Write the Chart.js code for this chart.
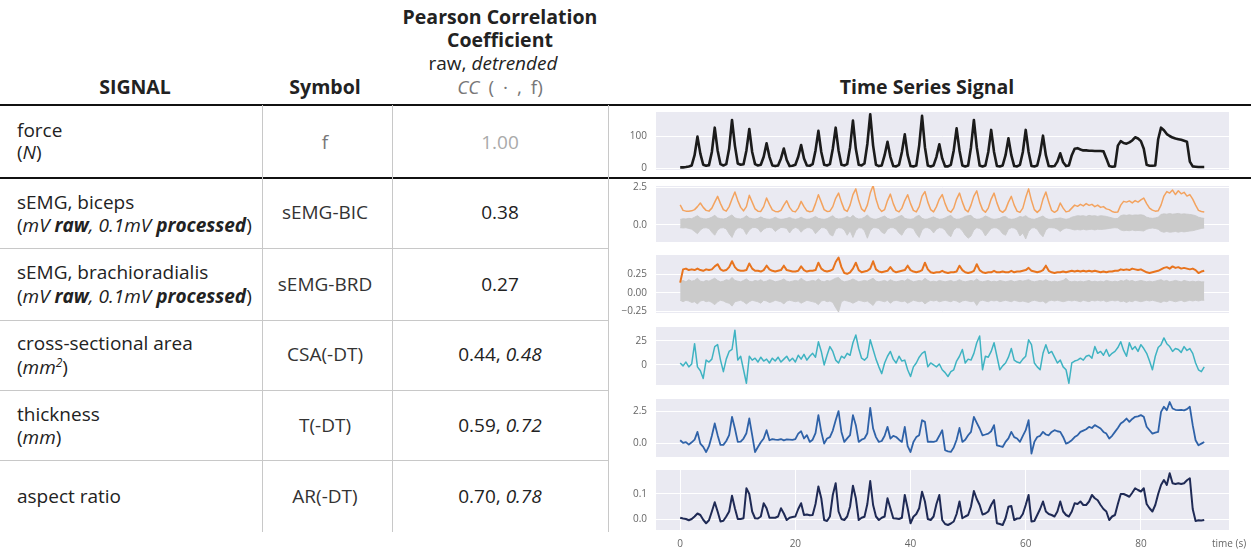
<!DOCTYPE html>
<html>
<head>
<meta charset="utf-8">
<script src="https://cdn.jsdelivr.net/npm/chart.js@4.4.1/dist/chart.umd.min.js"></script>
<style>
  body{margin:0;width:1251px;height:552px;position:relative;overflow:hidden;background:#fff;
       font-family:"Open Sans",sans-serif;color:#222;font-size:19px}
  .c{position:absolute;white-space:nowrap;transform:translate(-50%,-50%);line-height:22px}
  .l{position:absolute;white-space:nowrap;transform:translateY(-50%);line-height:22px}
  .b{font-weight:700;font-size:19.5px}
  .hl{position:absolute;left:0;width:1251px;height:2px;background:#111}
  .rl{position:absolute;left:0;width:608px;height:1px;background:#c8c8c8}
  .vl{position:absolute;top:105px;width:1px;height:427px;background:#c8c8c8}
  canvas{position:absolute;left:610px}
  .small{position:absolute;font-size:10px;color:#666;transform:translateY(-50%)}
</style>
</head>
<body>
<!-- header -->
<div class="c b" style="left:500px;top:17px">Pearson Correlation</div>
<div class="c b" style="left:500px;top:40px">Coefficient</div>
<div class="c" style="left:493px;top:63px">raw, <i>detrended</i></div>
<div class="c" style="left:500px;top:87px;color:#777;word-spacing:4px"><i>CC</i> (&nbsp;·&nbsp;, f)</div>
<div class="c b" style="left:135px;top:87px">SIGNAL</div>
<div class="c b" style="left:325px;top:87px">Symbol</div>
<div class="c b" style="left:927px;top:87px">Time Series Signal</div>

<!-- rules -->
<div class="hl" style="top:104px"></div>
<div class="hl" style="top:177px"></div>
<div class="rl" style="top:248px"></div>
<div class="rl" style="top:320px"></div>
<div class="rl" style="top:390px"></div>
<div class="rl" style="top:460px"></div>
<div class="vl" style="left:262px"></div>
<div class="vl" style="left:392px"></div>
<div class="vl" style="left:608px"></div>

<!-- rows -->
<div class="l" style="left:17px;top:130px">force</div>
<div class="l" style="left:17px;top:152px">(<i>N</i>)</div>
<div class="c" style="left:325px;top:142px;color:#777">f</div>
<div class="c" style="left:500px;top:142px;color:#aaa">1.00</div>

<div class="l" style="left:17px;top:202px">sEMG, biceps</div>
<div class="l" style="left:17px;top:225px">(<i>mV <b>raw</b>, 0.1mV <b>processed</b></i>)</div>
<div class="c" style="left:325px;top:212px;color:#333">sEMG-BIC</div>
<div class="c" style="left:500px;top:212px">0.38</div>

<div class="l" style="left:17px;top:272px">sEMG, brachioradialis</div>
<div class="l" style="left:17px;top:296px">(<i>mV <b>raw</b>, 0.1mV <b>processed</b></i>)</div>
<div class="c" style="left:325px;top:284px;color:#333">sEMG-BRD</div>
<div class="c" style="left:500px;top:284px">0.27</div>

<div class="l" style="left:17px;top:343px">cross-sectional area</div>
<div class="l" style="left:17px;top:365px">(<i>mm<sup style="font-size:12px">2</sup></i>)</div>
<div class="c" style="left:325px;top:354px;color:#333">CSA(-DT)</div>
<div class="c" style="left:500px;top:354px">0.44, <i>0.48</i></div>

<div class="l" style="left:17px;top:414px">thickness</div>
<div class="l" style="left:17px;top:437px">(<i>mm</i>)</div>
<div class="c" style="left:325px;top:425px;color:#333">T(-DT)</div>
<div class="c" style="left:500px;top:425px">0.59, <i>0.72</i></div>

<div class="l" style="left:17px;top:496px">aspect ratio</div>
<div class="c" style="left:325px;top:496px;color:#333">AR(-DT)</div>
<div class="c" style="left:500px;top:496px">0.70, <i>0.78</i></div>

<canvas id="cForce" width="641" height="88" style="top:97px"></canvas>
<canvas id="cBic" width="641" height="86" style="top:171px"></canvas>
<canvas id="cBrd" width="641" height="88" style="top:240px"></canvas>
<canvas id="cCsa" width="641" height="88" style="top:312px"></canvas>
<canvas id="cThk" width="641" height="88" style="top:384px"></canvas>
<canvas id="cAr" width="641" height="97" style="top:455px"></canvas>
<div class="small" style="left:1212px;top:543px">time (s)</div>

<script>
const TIME_S = [
  0,0.5,1,1.5,2,2.5,3,3.5,4,4.5,5,5.5,6,6.5,7,7.5,8,8.5,9,9.5,
  10,10.5,11,11.5,12,12.5,13,13.5,14,14.5,15,15.5,16,16.5,17,17.5,18,18.5,19,19.5,
  20,20.5,21,21.5,22,22.5,23,23.5,24,24.5,25,25.5,26,26.5,27,27.5,28,28.5,29,29.5,
  30,30.5,31,31.5,32,32.5,33,33.5,34,34.5,35,35.5,36,36.5,37,37.5,38,38.5,39,39.5,
  40,40.5,41,41.5,42,42.5,43,43.5,44,44.5,45,45.5,46,46.5,47,47.5,48,48.5,49,49.5,
  50,50.5,51,51.5,52,52.5,53,53.5,54,54.5,55,55.5,56,56.5,57,57.5,58,58.5,59,59.5,
  60,60.5,61,61.5,62,62.5,63,63.5,64,64.5,65,65.5,66,66.5,67,67.5,68,68.5,69,69.5,
  70,70.5,71,71.5,72,72.5,73,73.5,74,74.5,75,75.5,76,76.5,77,77.5,78,78.5,79,79.5,
  80,80.5,81,81.5,82,82.5,83,83.5,84,84.5,85,85.5,86,86.5,87,87.5,88,88.5,89,89.5,
  90,90.5,91
];
const X_TICKS = [0, 20, 40, 60, 80];

// force (N)
const FORCE = [
  2,2,3,5,8,40,98,45,10,7,9,50,126,55,12,8,12,60,150,70,
  14,10,12,55,122,50,12,8,10,35,77,35,8,6,8,30,61,25,6,7,
  10,35,72,30,8,7,12,55,116,50,10,8,12,60,126,55,10,8,12,65,
  148,60,10,8,14,75,168,70,10,6,8,40,82,35,6,5,10,50,105,40,
  6,5,8,70,163,65,8,5,8,35,74,30,5,5,10,55,124,55,8,5,
  8,65,150,65,8,5,8,50,119,50,6,5,8,40,93,40,6,5,10,50,
  119,50,6,5,8,45,101,40,6,5,6,20,46,18,6,8,40,60,62,58,
  55,55,54,54,53,53,53,52,30,6,4,5,70,84,78,76,80,86,96,92,
  84,60,10,7,7,8,90,126,118,106,100,95,92,90,88,85,82,20,5,4,
  3,3,3
];
const FORCE_TICKS = [0, 100];
const FORCE_LABELS = ['0', '100'];

// sEMG biceps: processed envelope + raw band (upper / lower)
const BIC_PROC = [
  1.32,0.95,0.9,0.9,0.92,1.0,1.2,1.44,1.15,0.95,0.9,1.1,1.5,1.88,1.4,1.0,0.9,1.2,1.7,2.17,
  1.6,1.15,0.92,1.2,1.95,1.5,1.05,0.9,0.88,1.2,1.77,1.35,0.98,0.88,0.86,0.95,1.3,1.59,1.15,0.9,
  0.85,1.1,1.55,1.2,0.92,0.86,0.9,1.4,1.99,1.5,1.0,0.88,0.9,1.2,1.75,2.1,1.5,1.0,0.88,1.3,
  2.0,2.38,1.6,1.05,0.88,1.3,2.1,2.6,1.7,1.1,0.88,1.0,1.6,2.03,1.4,0.95,0.85,1.1,1.6,1.99,
  1.4,0.95,0.85,1.2,1.9,2.2,1.5,1.0,0.85,1.2,1.7,2.0,1.4,0.95,0.83,1.1,1.7,2.1,1.5,1.0,
  0.85,1.3,1.9,2.25,1.5,1.0,0.83,1.1,1.7,2.1,1.45,0.95,0.82,1.0,1.5,1.88,1.3,0.9,0.82,1.1,
  1.8,2.38,1.6,1.0,0.82,1.0,1.7,2.17,1.5,0.95,0.82,0.95,1.44,1.1,0.85,0.9,1.1,1.3,1.22,1.35,
  1.25,1.4,1.28,1.35,1.2,1.3,1.15,1.2,1.05,1.0,0.88,0.82,0.85,1.3,1.55,1.5,1.58,1.45,1.6,1.5,
  1.65,1.77,1.4,1.1,0.97,0.9,0.92,1.3,1.9,2.2,2.1,2.3,2.0,2.25,2.05,2.15,1.9,2.0,1.7,1.3,
  0.95,0.88,0.85
];
const BIC_RAW_UP = [
  0.35,0.4,0.38,0.42,0.4,0.5,0.6,0.45,0.4,0.38,0.42,0.5,0.62,0.45,0.4,0.38,0.42,0.55,0.65,0.45,
  0.4,0.38,0.45,0.6,0.45,0.4,0.38,0.42,0.52,0.42,0.38,0.36,0.4,0.5,0.4,0.36,0.38,0.42,0.48,0.4,
  0.36,0.4,0.5,0.4,0.36,0.38,0.45,0.55,0.42,0.38,0.36,0.4,0.5,0.6,0.42,0.38,0.4,0.45,0.55,0.45,
  0.62,0.45,0.38,0.4,0.5,0.65,0.45,0.38,0.36,0.42,0.5,0.58,0.42,0.36,0.38,0.45,0.55,0.62,0.42,0.38,
  0.36,0.4,0.55,0.62,0.42,0.36,0.38,0.45,0.52,0.42,0.36,0.38,0.45,0.55,0.62,0.42,0.36,0.38,0.45,0.55,
  0.6,0.62,0.42,0.36,0.38,0.45,0.58,0.5,0.4,0.36,0.38,0.42,0.52,0.55,0.4,0.36,0.38,0.45,0.55,0.5,
  0.6,0.45,0.38,0.36,0.42,0.5,0.58,0.42,0.36,0.36,0.4,0.42,0.45,0.4,0.36,0.4,0.5,0.55,0.6,0.58,
  0.6,0.55,0.62,0.58,0.6,0.55,0.6,0.58,0.55,0.5,0.45,0.4,0.42,0.6,0.65,0.62,0.66,0.62,0.65,0.64,
  0.66,0.62,0.5,0.45,0.42,0.45,0.5,0.68,0.72,0.7,0.74,0.7,0.72,0.75,0.7,0.72,0.7,0.68,0.65,0.6,
  0.5,0.45,0.42
];
const BIC_RAW_LO = [
  -0.2,-0.22,-0.2,-0.25,-0.3,-0.45,-0.6,-0.35,-0.22,-0.2,-0.25,-0.5,-0.7,-0.35,-0.22,-0.2,-0.28,-0.6,-0.85,-0.4,
  -0.22,-0.2,-0.3,-0.65,-0.35,-0.2,-0.18,-0.25,-0.5,-0.3,-0.2,-0.18,-0.22,-0.45,-0.3,-0.18,-0.2,-0.25,-0.55,-0.28,
  -0.18,-0.25,-0.5,-0.3,-0.2,-0.2,-0.3,-0.6,-0.4,-0.2,-0.2,-0.3,-0.65,-0.75,-0.3,-0.2,-0.22,-0.35,-0.7,-0.4,
  -0.85,-0.4,-0.2,-0.22,-0.4,-0.9,-0.4,-0.2,-0.2,-0.25,-0.5,-0.6,-0.3,-0.2,-0.2,-0.3,-0.55,-0.7,-0.35,-0.2,
  -0.2,-0.25,-0.6,-0.85,-0.35,-0.2,-0.2,-0.3,-0.55,-0.3,-0.2,-0.22,-0.35,-0.65,-0.8,-0.35,-0.2,-0.22,-0.4,-0.7,
  -0.9,-0.75,-0.35,-0.2,-0.25,-0.4,-0.75,-0.5,-0.25,-0.2,-0.22,-0.35,-0.6,-0.7,-0.3,-0.2,-0.22,-0.35,-0.75,-0.55,
  -0.95,-0.45,-0.22,-0.2,-0.3,-0.6,-0.8,-0.35,-0.2,-0.2,-0.22,-0.3,-0.45,-0.3,-0.22,-0.25,-0.3,-0.35,-0.32,-0.35,
  -0.3,-0.35,-0.32,-0.3,-0.35,-0.3,-0.32,-0.3,-0.28,-0.25,-0.22,-0.2,-0.22,-0.35,-0.4,-0.38,-0.4,-0.35,-0.4,-0.38,
  -0.4,-0.42,-0.3,-0.25,-0.22,-0.25,-0.3,-0.45,-0.5,-0.45,-0.5,-0.48,-0.45,-0.5,-0.45,-0.48,-0.45,-0.42,-0.4,-0.35,
  -0.3,-0.25,-0.22
];
const BIC_TICKS = [0, 2.5];
const BIC_LABELS = ['0.0', '2.5'];

// sEMG brachioradialis
const BRD_PROC = [
  0.14,0.32,0.33,0.31,0.32,0.31,0.33,0.31,0.3,0.32,0.31,0.32,0.36,0.39,0.32,0.3,0.31,0.35,0.43,0.35,
  0.31,0.3,0.3,0.31,0.4,0.33,0.3,0.3,0.29,0.31,0.37,0.32,0.3,0.29,0.3,0.31,0.37,0.31,0.3,0.29,
  0.29,0.3,0.36,0.31,0.29,0.3,0.3,0.31,0.41,0.33,0.3,0.29,0.3,0.32,0.42,0.48,0.35,0.27,0.26,0.28,
  0.33,0.41,0.31,0.28,0.29,0.3,0.33,0.43,0.32,0.29,0.28,0.29,0.3,0.35,0.3,0.28,0.29,0.3,0.31,0.37,
  0.31,0.29,0.28,0.29,0.31,0.41,0.32,0.28,0.27,0.28,0.28,0.3,0.28,0.27,0.28,0.28,0.29,0.37,0.31,0.28,
  0.27,0.28,0.3,0.39,0.31,0.28,0.27,0.28,0.28,0.3,0.28,0.28,0.29,0.28,0.28,0.3,0.28,0.29,0.29,0.3,
  0.31,0.34,0.3,0.29,0.28,0.29,0.31,0.37,0.3,0.28,0.27,0.28,0.28,0.29,0.28,0.29,0.3,0.29,0.3,0.29,
  0.3,0.29,0.3,0.29,0.3,0.29,0.28,0.29,0.28,0.29,0.29,0.3,0.3,0.32,0.31,0.32,0.31,0.33,0.32,0.31,
  0.32,0.3,0.28,0.27,0.28,0.29,0.3,0.32,0.34,0.35,0.33,0.36,0.34,0.35,0.33,0.34,0.33,0.32,0.33,0.31,
  0.27,0.29,0.3
];
const BRD_RAW_UP = [
  0.15,0.17,0.15,0.18,0.16,0.17,0.2,0.16,0.15,0.17,0.16,0.18,0.2,0.17,0.15,0.16,0.18,0.17,0.21,0.17,
  0.16,0.15,0.17,0.19,0.16,0.15,0.17,0.16,0.18,0.15,0.16,0.18,0.17,0.15,0.16,0.17,0.19,0.16,0.15,0.16,
  0.17,0.16,0.2,0.17,0.15,0.16,0.17,0.16,0.19,0.16,0.15,0.17,0.16,0.18,0.2,0.21,0.17,0.15,0.16,0.17,
  0.19,0.17,0.15,0.16,0.17,0.16,0.18,0.2,0.16,0.15,0.16,0.17,0.15,0.18,0.16,0.15,0.16,0.17,0.16,0.19,
  0.17,0.15,0.16,0.17,0.16,0.2,0.17,0.15,0.16,0.15,0.17,0.16,0.15,0.16,0.17,0.15,0.16,0.18,0.16,0.15,
  0.16,0.17,0.16,0.19,0.16,0.15,0.16,0.17,0.15,0.16,0.15,0.17,0.16,0.15,0.16,0.17,0.15,0.16,0.17,0.16,
  0.17,0.18,0.16,0.15,0.16,0.17,0.16,0.18,0.16,0.15,0.16,0.15,0.16,0.17,0.2,0.16,0.15,0.16,0.15,0.16,
  0.15,0.16,0.17,0.15,0.16,0.15,0.16,0.15,0.17,0.16,0.15,0.16,0.15,0.17,0.16,0.18,0.16,0.17,0.15,0.16,
  0.17,0.16,0.15,0.16,0.15,0.16,0.17,0.18,0.16,0.17,0.15,0.16,0.17,0.16,0.15,0.17,0.16,0.15,0.16,0.15,
  0.16,0.15,0.15
];
const BRD_RAW_LO = [
  -0.1,-0.12,-0.1,-0.11,-0.13,-0.12,-0.15,-0.11,-0.1,-0.12,-0.11,-0.13,-0.16,-0.12,-0.1,-0.11,-0.13,-0.14,-0.18,-0.12,
  -0.11,-0.1,-0.12,-0.15,-0.12,-0.1,-0.11,-0.12,-0.14,-0.1,-0.11,-0.13,-0.12,-0.1,-0.11,-0.12,-0.15,-0.11,-0.1,-0.11,
  -0.12,-0.11,-0.14,-0.12,-0.1,-0.11,-0.12,-0.13,-0.16,-0.11,-0.1,-0.12,-0.11,-0.13,-0.2,-0.26,-0.12,-0.1,-0.11,-0.12,
  -0.14,-0.12,-0.1,-0.11,-0.12,-0.11,-0.14,-0.17,-0.11,-0.1,-0.11,-0.12,-0.1,-0.14,-0.11,-0.1,-0.11,-0.12,-0.11,-0.14,
  -0.12,-0.1,-0.11,-0.12,-0.11,-0.15,-0.12,-0.1,-0.11,-0.1,-0.12,-0.11,-0.1,-0.11,-0.12,-0.1,-0.11,-0.13,-0.11,-0.1,
  -0.11,-0.12,-0.11,-0.17,-0.11,-0.1,-0.11,-0.12,-0.1,-0.11,-0.1,-0.12,-0.11,-0.1,-0.11,-0.12,-0.1,-0.11,-0.12,-0.11,
  -0.12,-0.13,-0.11,-0.1,-0.11,-0.12,-0.11,-0.14,-0.11,-0.1,-0.11,-0.1,-0.11,-0.12,-0.11,-0.1,-0.11,-0.1,-0.11,-0.12,
  -0.1,-0.11,-0.12,-0.1,-0.11,-0.1,-0.11,-0.1,-0.12,-0.11,-0.1,-0.11,-0.1,-0.12,-0.11,-0.13,-0.11,-0.12,-0.1,-0.11,
  -0.12,-0.11,-0.1,-0.11,-0.1,-0.11,-0.12,-0.13,-0.11,-0.12,-0.1,-0.11,-0.12,-0.11,-0.1,-0.12,-0.11,-0.1,-0.11,-0.1,
  -0.11,-0.1,-0.1
];
const BRD_TICKS = [-0.25, 0, 0.25];
const BRD_LABELS = ['\u22120.25', '0.00', '0.25'];

// cross-sectional area (detrended, mm^2)
const CSA = [
  2,-1,3,-2,1,22,-2,-6,-14,5,3,6,19,21,5,-7,6,14,16,36,
  5,9,-5,-19,9,5,7,3,8,4,6,2,7,4,8,3,6,9,4,7,
  3,10,6,11,5,9,12,8,24,14,0,10,19,14,5,2,9,7,12,10,
  23,31,17,7,5,8,26,16,6,-2,-9,2,9,14,6,2,9,4,5,-5,
  -12,-2,2,8,12,14,-2,2,0,-2,1,-5,-8,-12,-7,-5,4,9,16,2,
  6,5,12,23,30,-5,9,8,14,23,9,-5,-1,2,8,17,5,3,2,6,
  9,26,21,2,-2,-5,12,21,12,14,8,2,5,-2,-5,-19,2,4,5,7,
  5,9,10,7,19,12,14,10,16,9,12,14,18,24,15,9,23,16,19,14,
  21,17,12,4,-5,9,18,21,28,22,19,14,17,16,13,19,15,17,12,2,
  -5,-7,-2
];
const CSA_TICKS = [0, 25];
const CSA_LABELS = ['0', '25'];

// thickness (detrended, mm)
const THK = [
  0.26,0.05,0.12,-0.08,0.1,0.3,0.9,0.0,-0.25,-0.65,-0.2,0.6,1.55,0.65,-0.1,-0.1,0.2,0.65,2.06,1.16,
  0.13,0.15,0.39,0.8,1.93,0.65,-0.65,-0.26,0.1,0.39,1.03,0.26,0.35,0.3,0.28,0.35,0.25,0.32,0.3,0.28,
  0.35,0.77,0.95,0.39,0.65,0.13,0.3,0.8,2.19,0.9,0.0,0.39,0.5,1.0,1.8,2.5,0.9,0.13,0.4,0.65,
  2.19,1.42,0.13,0.3,0.39,0.8,2.75,1.16,0.5,0.13,0.2,0.6,1.29,0.39,0.6,0.51,0.3,0.13,1.29,-0.2,
  -0.65,0.13,0.5,0.65,1.8,1.67,0.13,0.15,0.13,0.2,0.6,1.03,-0.51,-0.6,-0.64,-0.3,0.3,1.21,0.13,0.3,
  0.64,0.9,2.06,1.6,1.16,0.64,0.7,0.77,0.95,1.42,-0.13,-0.2,-0.26,0.13,0.4,0.9,0.5,0.39,0.13,0.6,
  1.03,1.8,-0.77,0.13,0.51,0.6,0.9,0.7,0.64,0.9,1.03,0.95,0.9,0.51,0.0,0.1,0.26,0.5,0.64,0.9,
  1.0,1.1,1.29,1.2,1.42,1.3,1.16,0.9,0.77,0.39,0.6,0.9,1.2,1.54,1.7,1.93,1.67,1.9,2.06,2.1,
  2.19,2.06,1.3,1.03,0.77,0.85,0.9,2.44,2.83,2.57,3.2,2.7,2.6,2.57,2.6,2.55,2.65,2.83,1.42,0.26,
  -0.13,0.0,0.13
];
const THK_TICKS = [0, 2.5];
const THK_LABELS = ['0.0', '2.5'];

// aspect ratio (detrended)
const AR = [
  0.005,0.002,0.0,-0.005,0.0,0.01,0.022,0.016,-0.003,-0.017,-0.005,0.03,0.067,0.03,-0.01,-0.007,0.01,0.03,0.093,0.043,
  0.0,0.0,0.003,0.123,0.1,0.03,0.003,0.002,0.01,0.063,0.043,0.005,0.005,0.005,0.01,0.043,0.022,-0.004,0.005,0.008,
  0.01,0.04,0.063,0.016,0.018,0.015,0.016,0.06,0.13,0.083,-0.004,-0.008,0.01,0.096,0.143,0.03,0.0,-0.004,0.01,0.05,
  0.133,0.083,-0.004,0.005,0.009,0.06,0.152,0.056,0.01,-0.004,0.005,0.01,0.083,0.043,0.003,0.002,0.0,0.005,0.096,0.043,
  -0.017,0.009,0.02,0.043,0.109,0.07,0.0,-0.004,0.01,0.06,0.096,-0.004,-0.02,-0.024,-0.018,-0.01,0.02,0.07,0.003,0.01,
  0.016,0.05,0.112,0.08,0.056,0.018,0.022,0.03,0.056,0.076,-0.017,-0.02,-0.024,0.003,0.049,0.052,-0.004,0.002,0.003,0.02,
  0.056,0.096,-0.01,-0.008,0.016,0.04,0.07,0.03,0.02,0.016,0.01,0.03,0.07,0.03,0.016,0.01,0.03,0.063,0.06,0.07,
  0.056,0.056,0.07,0.096,0.083,0.075,0.056,0.04,0.03,-0.004,0.01,0.016,0.06,0.1,0.1,0.095,0.089,0.105,0.123,0.116,
  0.11,0.123,0.06,0.043,0.03,0.056,0.1,0.136,0.156,0.136,0.183,0.143,0.14,0.143,0.14,0.143,0.155,0.163,0.04,-0.008,
  -0.005,-0.006,-0.004
];
const AR_TICKS = [0, 0.1];
const AR_LABELS = ['0.0', '0.1'];

// seaborn-ish plot background
const plotBg = {
  id: 'plotBg',
  beforeDraw(chart) {
    const {ctx, chartArea: a} = chart;
    ctx.save();
    ctx.fillStyle = '#eaeaf2';
    ctx.fillRect(a.left, a.top, a.width, a.height);
    ctx.restore();
  }
};

function pts(values){ return values.map((v, i) => ({x: TIME_S[i], y: v})); }

function line(values, color, width){
  return {data: pts(values), borderColor: color, borderWidth: width, pointRadius: 0,
          tension: 0, fill: false, borderJoinStyle: 'round'};
}

// raw EMG drawn as a grey band between its upper and lower envelope
function band(up, lo){
  return [
    {data: pts(up), borderColor: '#c6c6c6', borderWidth: 0.8, pointRadius: 0, tension: 0,
     fill: '+1', backgroundColor: '#cbcbcb'},
    {data: pts(lo), borderColor: '#c6c6c6', borderWidth: 0.8, pointRadius: 0, tension: 0, fill: false}
  ];
}

// every chart area sits 15px inside its canvas (room for the y tick labels)
function makeChart(id, datasets, yMin, yMax, yTicks, yLabels, showX){
  const font = {family: 'Open Sans', size: 10};
  const xAxis = {
    type: 'linear', min: -4.2, max: 95.3, display: showX,
    afterBuildTicks: ax => { ax.ticks = X_TICKS.map(v => ({value: v})); },
    grid: {color: '#ffffff', lineWidth: 1, drawTicks: false},
    border: {display: false},
    ticks: {padding: 8, color: '#666', font: font}
  };
  if (showX) xAxis.afterFit = ax => { ax.height = 22; };
  new Chart(document.getElementById(id), {
    type: 'line',
    data: {datasets: datasets},
    options: {
      responsive: false, animation: false, devicePixelRatio: 1,
      layout: {padding: {top: 15, bottom: showX ? 0 : 15, left: 0, right: 22}},
      plugins: {legend: {display: false}, tooltip: {enabled: false}},
      scales: {
        x: xAxis,
        y: {
          min: yMin, max: yMax,
          afterBuildTicks: ax => { ax.ticks = yTicks.map(v => ({value: v})); },
          afterFit: ax => { ax.width = 46; },
          grid: {color: '#ffffff', lineWidth: 1, drawTicks: false},
          border: {display: false},
          ticks: {padding: 9, color: '#666', font: font, callback: (v, i) => yLabels[i]}
        }
      }
    },
    plugins: [plotBg]
  });
}

makeChart('cForce', [line(FORCE, '#1b1b1b', 2.6)], -6.25, 175, FORCE_TICKS, FORCE_LABELS, false);
makeChart('cBic', [line(BIC_PROC, '#f3a35f', 1.5)].concat(band(BIC_RAW_UP, BIC_RAW_LO)),
          -1.15, 2.57, BIC_TICKS, BIC_LABELS, false);
makeChart('cBrd', [line(BRD_PROC, '#e8741e', 2)].concat(band(BRD_RAW_UP, BRD_RAW_LO)),
          -0.273, 0.515, BRD_TICKS, BRD_LABELS, false);
makeChart('cCsa', [line(CSA, '#3fb3c2', 1.5)], -20.8, 39.3, CSA_TICKS, CSA_LABELS, false);
makeChart('cThk', [line(THK, '#2f62a8', 1.8)], -1.03, 3.43, THK_TICKS, THK_LABELS, false);
makeChart('cAr', [line(AR, '#1f2a55', 2)], -0.044, 0.196, AR_TICKS, AR_LABELS, true);
</script>
</body>
</html>
